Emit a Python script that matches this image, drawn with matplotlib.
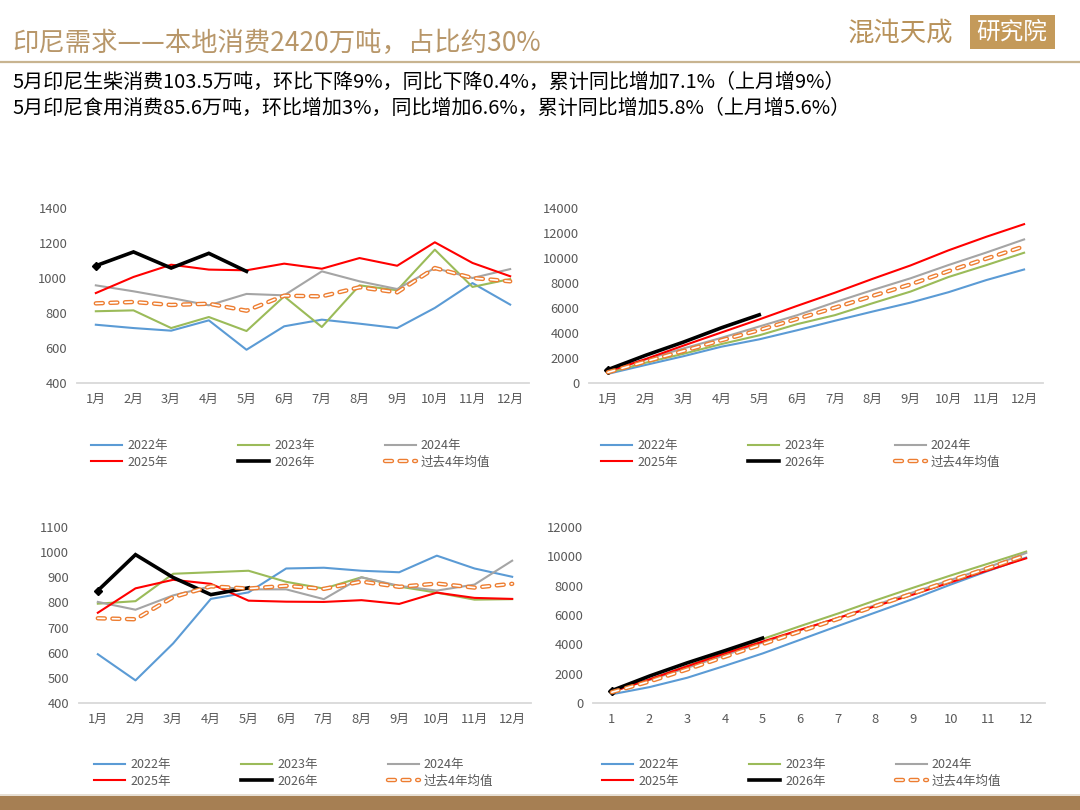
import numpy as np
import matplotlib
matplotlib.use('Agg')
import matplotlib.pyplot as plt
from matplotlib.patches import Rectangle
from matplotlib.lines import Line2D

plt.rcParams['font.family'] = ['Noto Sans CJK SC', 'DejaVu Sans']
plt.rcParams['lines.scale_dashes'] = False

months = ['1月', '2月', '3月', '4月', '5月', '6月', '7月', '8月', '9月', '10月', '11月', '12月']
month_nums = ['1', '2', '3', '4', '5', '6', '7', '8', '9', '10', '11', '12']
labels = ['2022年', '2023年', '2024年', '2025年', '2026年', '过去4年均值']

# 生柴消费（月度）
bio_2022 = [733, 714, 699, 758, 590, 724, 762, 739, 714, 829, 971, 848]
bio_2023 = [810, 815, 714, 777, 697, 895, 720, 958, 930, 1162, 949, 994]
bio_2024 = [958, 924, 886, 844, 909, 901, 1038, 981, 937, 1057, 1000, 1051]
bio_2025 = [914, 1006, 1076, 1048, 1044, 1082, 1053, 1114, 1070, 1204, 1086, 1010]
bio_2026 = [1070, 1149, 1057, 1141, 1038]
bio_avg = [855, 863, 846, 853, 813, 899, 895, 947, 918, 1057, 1000, 981]

# 生柴消费（累计）
bio_cum_2022 = [733, 1447, 2146, 2904, 3494, 4218, 4980, 5719, 6433, 7262, 8233, 9081]
bio_cum_2023 = [810, 1625, 2339, 3116, 3813, 4708, 5428, 6386, 7316, 8478, 9427, 10421]
bio_cum_2024 = [958, 1882, 2768, 3612, 4521, 5422, 6460, 7441, 8378, 9435, 10435, 11486]
bio_cum_2025 = [914, 1920, 2996, 4044, 5088, 6170, 7223, 8337, 9407, 10611, 11697, 12707]
bio_cum_2026 = [1070, 2219, 3276, 4417, 5455]
bio_cum_avg = [855, 1718, 2564, 3417, 4230, 5129, 6024, 6971, 7889, 8946, 9946, 10927]

# 食用消费（月度）
food_2022 = [594, 490, 637, 814, 840, 935, 938, 926, 920, 986, 935, 902]
food_2023 = [795, 805, 914, 920, 926, 882, 855, 900, 863, 839, 811, 813]
food_2024 = [802, 771, 828, 864, 852, 852, 813, 900, 866, 847, 871, 966]
food_2025 = [759, 856, 890, 874, 807, 803, 802, 809, 794, 839, 818, 814]
food_2026 = [847, 990, 899, 831, 858]
food_avg = [737, 733, 821, 864, 855, 866, 854, 883, 862, 875, 859, 874]

# 食用消费（累计）
food_cum_2022 = [594, 1084, 1721, 2535, 3375, 4310, 5248, 6174, 7094, 8080, 9015, 9917]
food_cum_2023 = [795, 1600, 2514, 3434, 4360, 5242, 6097, 6997, 7860, 8699, 9510, 10323]
food_cum_2024 = [802, 1573, 2401, 3265, 4117, 4969, 5782, 6682, 7548, 8395, 9266, 10232]
food_cum_2025 = [759, 1615, 2505, 3379, 4186, 4989, 5791, 6600, 7394, 8233, 9051, 9865]
food_cum_2026 = [847, 1837, 2736, 3567, 4425]
food_cum_avg = [737, 1470, 2291, 3155, 4010, 4876, 5730, 6613, 7475, 8350, 9209, 10083]

colors = ['#5B9BD5', '#9BBB59', '#A5A5A5', '#FF0000', '#000000']
orange = '#ED7D31'
gold = '#B8976A'
tick_grey = '#595959'

W, H = 1080, 810
fig = plt.figure(figsize=(10.8, 8.1), dpi=100)


def box(x0, y0, x1, y1):
    # pixel box (top-left origin) -> figure rect
    return [x0 / W, 1 - y1 / H, (x1 - x0) / W, (y1 - y0) / H]


def draw(ax, series, avg, ymin, ymax, step, xlabels):
    x = np.arange(1, 13)
    handles = []
    for vals, c in zip(series, colors):
        if c == '#000000':
            h, = ax.plot(x[:len(vals)], vals, color=c, lw=2.6, solid_joinstyle='miter')
            ax.plot(x[:1], vals[:1], color=c, marker='D', ms=4.5, ls='none')
        else:
            h, = ax.plot(x[:len(vals)], vals, color=c, lw=1.5)
        handles.append(h)
    h1, = ax.plot(x, avg, color=orange, lw=3.2, dashes=(5, 5.5), dash_capstyle='round')
    h2, = ax.plot(x, avg, color='white', lw=1.2, dashes=(5, 5.5), dash_capstyle='round')
    handles.append((h1, h2))
    ax.set_xlim(0.5, 12.5)
    ax.set_ylim(ymin, ymax)
    ax.set_yticks(np.arange(ymin, ymax + 1, step))
    ax.set_xticks(x)
    ax.set_xticklabels(xlabels)
    for s in ['top', 'right', 'left']:
        ax.spines[s].set_visible(False)
    ax.spines['bottom'].set_color('#D9D9D9')
    ax.spines['bottom'].set_linewidth(1.3)
    ax.tick_params(axis='both', length=0, labelsize=9.3, labelcolor=tick_grey)
    ax.tick_params(axis='y', pad=7)
    ax.tick_params(axis='x', pad=7)
    ax.patch.set_alpha(0)
    return handles


def add_legend(handles, x0, ytop):
    order = [0, 3, 1, 4, 2, 5]
    leg = fig.legend([handles[i] for i in order], [labels[i] for i in order],
                     loc='upper left', bbox_to_anchor=(x0 / W, 1 - ytop / H),
                     ncol=3, frameon=False, fontsize=9, borderpad=0, borderaxespad=0,
                     handlelength=2.5, handletextpad=0.4, columnspacing=5.6,
                     labelspacing=0.3, labelcolor=tick_grey)
    return leg


ax1 = fig.add_axes(box(77, 208, 529, 383))
h = draw(ax1, [bio_2022, bio_2023, bio_2024, bio_2025, bio_2026], bio_avg, 400, 1400, 200, months)
add_legend(h, 91, 439)

ax2 = fig.add_axes(box(589, 208, 1043, 383))
h = draw(ax2, [bio_cum_2022, bio_cum_2023, bio_cum_2024, bio_cum_2025, bio_cum_2026], bio_cum_avg,
         0, 14000, 2000, months)
add_legend(h, 601, 439)

ax3 = fig.add_axes(box(79, 527, 531, 703))
h = draw(ax3, [food_2022, food_2023, food_2024, food_2025, food_2026], food_avg, 400, 1100, 100, months)
add_legend(h, 94, 758)

ax4 = fig.add_axes(box(593, 527, 1045, 703))
h = draw(ax4, [food_cum_2022, food_cum_2023, food_cum_2024, food_cum_2025, food_cum_2026], food_cum_avg,
         0, 12000, 2000, month_nums)
add_legend(h, 602, 758)

# header
fig.text(12 / W, 1 - 43 / H, '印尼需求——本地消费2420万吨，占比约30%', fontsize=19,
         color=gold, va='center', ha='left')
fig.add_artist(Line2D([0, 1], [1 - 62 / H, 1 - 62 / H], color='#C8B490', lw=1.6))

fig.text(848 / W, 1 - 33 / H, '混沌天成', fontsize=19, color='#B8925A', va='center', ha='left')
fig.patches.append(Rectangle((970 / W, 1 - 49 / H), 85 / W, 34 / H, transform=fig.transFigure,
                             facecolor='#C49A5A', edgecolor='none'))
fig.text(1012 / W, 1 - 32 / H, '研究院', fontsize=17, color='white', va='center', ha='center')

fig.text(12 / W, 1 - 82 / H, '5月印尼生柴消费103.5万吨，环比下降9%，同比下降0.4%，累计同比增加7.1%（上月增9%）',
         fontsize=14.4, color='black', va='center', ha='left')
fig.text(12 / W, 1 - 108 / H, '5月印尼食用消费85.6万吨，环比增加3%，同比增加6.6%，累计同比增加5.8%（上月增5.6%）',
         fontsize=14.4, color='black', va='center', ha='left')

# footer band
fig.patches.append(Rectangle((0, 0), 1, 14 / H, transform=fig.transFigure,
                             facecolor='#A67F53', edgecolor='none'))
fig.add_artist(Line2D([0, 1], [15.5 / H, 15.5 / H], color='#E3D9CC', lw=1.2))

fig.savefig('out.png', dpi=100)
